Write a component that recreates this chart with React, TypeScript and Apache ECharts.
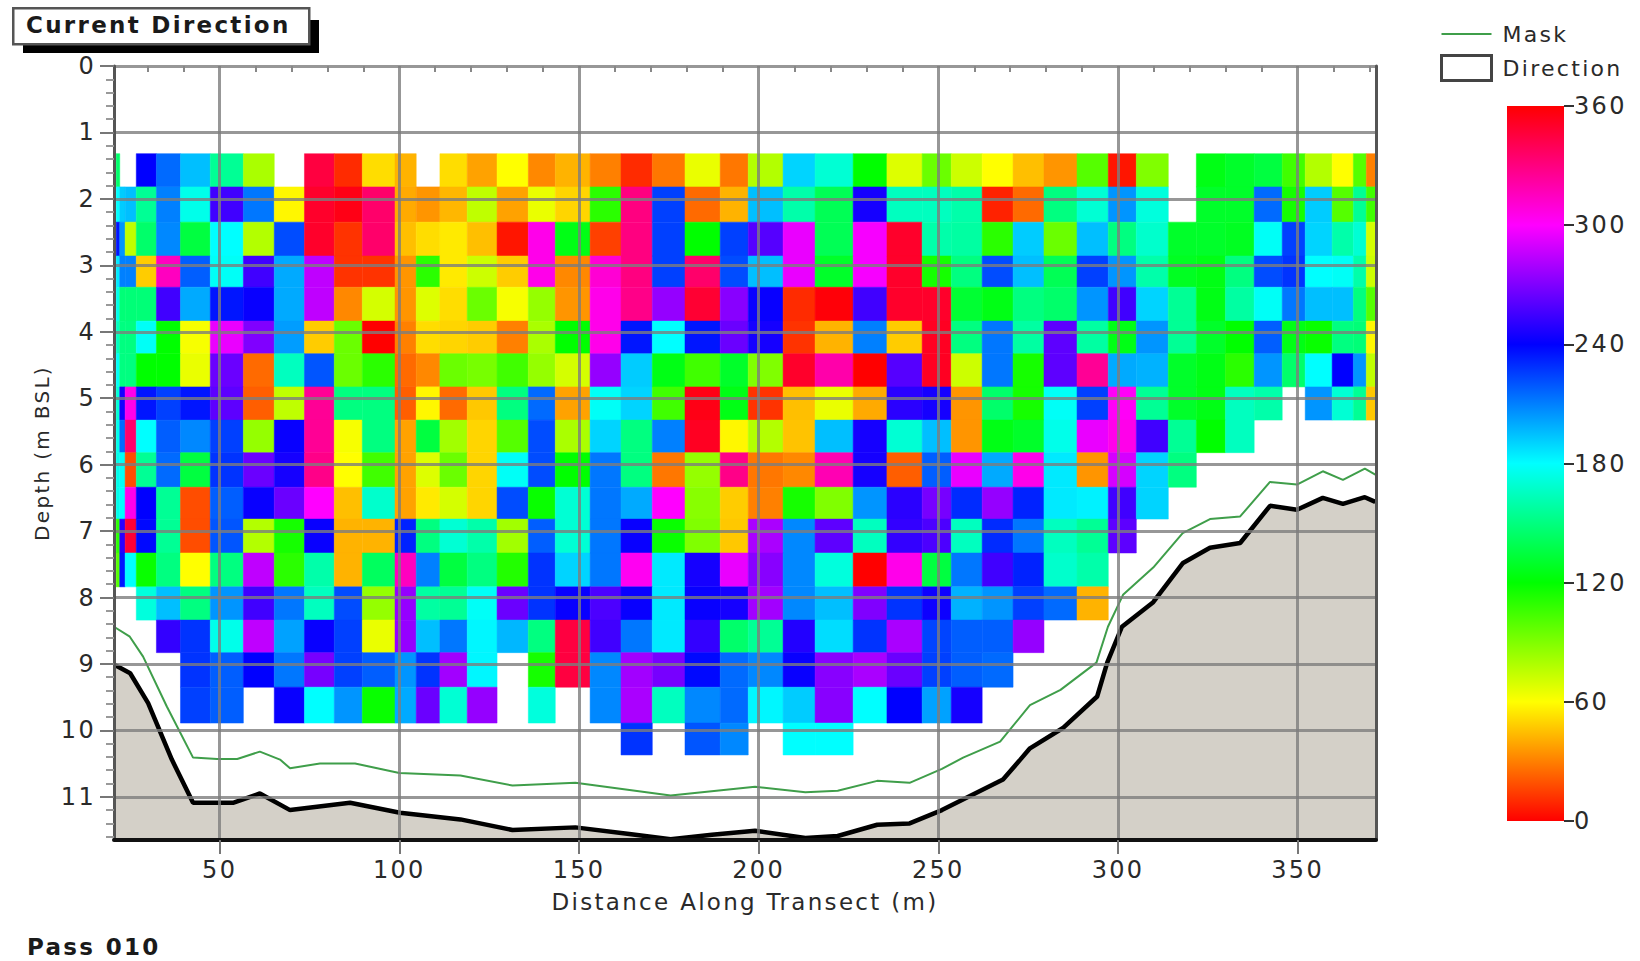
import React, { useEffect, useRef } from "react";
import * as echarts from "echarts";

const _ = null;
// column edges along the transect (m)
const distanceEdges = [21.2,22.2,23.7,26.8,32.4,39.1,47.4,56.6,65.2,73.6,81.9,89.7,98.8,104.7,111.3,118.9,127.2,135.9,143.4,153.1,161.7,170.4,179.5,189.3,197.1,206.8,215.7,226.3,235.7,245.5,253.6,262.2,270.8,279.4,288.6,297.3,305.1,314,321.8,329.9,337.9,345.7,352.1,359.6,365.5,369.1,371.6];
// row edges in depth (m)
const depthEdges = [1.32,1.82,2.35,2.86,3.33,3.84,4.33,4.83,5.33,5.82,6.34,6.82,7.33,7.84,8.34,8.83,9.35,9.89,10.37];

const row00 = [145,_,_,240,215,195,155,80,_,345,10,52,42,_,52,38,60,32,42,30,10,28,65,28,78,190,170,120,68,95,72,60,45,35,100,5,90,_,125,130,135,105,78,60,100,30];
const row01 = [180,192,195,155,210,175,255,212,58,350,355,335,40,35,43,75,38,65,50,110,330,225,25,42,195,160,140,245,165,165,160,8,25,150,170,205,172,_,130,130,215,115,192,100,155,105];
const row02 = [235,205,75,145,208,135,180,78,222,350,12,335,45,52,55,45,5,305,125,15,330,225,120,225,260,295,140,298,350,160,158,110,192,95,195,150,168,130,130,128,178,225,190,160,170,70];
const row03 = [185,210,210,48,315,218,178,255,200,285,12,12,35,110,55,72,48,305,32,310,330,225,335,222,195,295,130,298,350,115,150,222,195,140,225,205,160,128,125,150,222,228,180,178,160,72];
const row04 = [175,148,148,148,255,200,235,242,200,285,32,70,35,68,52,95,62,85,35,305,328,275,348,272,242,10,358,255,350,350,132,125,150,145,205,255,190,155,125,158,178,212,195,195,150,100];
const row05 = [165,150,150,178,120,62,295,270,203,48,95,0,30,52,50,48,30,80,120,305,235,180,235,265,245,12,42,210,48,352,150,212,158,262,158,125,205,155,130,120,218,125,118,150,148,58];
const row06 = [178,150,150,120,120,65,265,25,165,220,95,110,25,32,95,92,105,85,70,275,192,125,105,130,90,350,320,0,260,352,72,212,115,262,325,200,198,130,125,110,205,145,180,240,205,75];
const row07 = [170,245,305,235,225,235,262,22,75,325,150,150,22,58,25,47,150,215,38,178,190,105,355,125,12,45,65,40,250,245,35,145,115,178,225,302,155,130,125,165,160,_,205,170,155,47];
const row08 = [175,215,335,180,218,208,225,85,242,325,62,150,38,135,82,50,100,222,80,190,150,210,352,58,78,46,195,245,170,195,35,125,130,175,295,305,255,155,120,165,_,_,_,_,_,_];
const row09 = [175,178,18,155,215,135,228,265,245,328,60,105,38,68,95,50,178,222,120,212,150,28,85,328,28,32,318,245,22,218,295,200,305,185,35,290,190,150,_,_,_,_,_,_,_,_];
const row10 = [175,180,305,240,155,18,218,242,265,300,45,168,38,55,70,50,222,118,170,212,200,300,88,48,30,115,90,205,250,268,230,275,232,185,183,255,190,_,_,_,_,_,_,_,_,_];
const row11 = [110,250,348,238,155,18,220,78,115,242,42,42,232,150,170,160,82,218,170,212,242,118,90,47,280,208,262,165,252,258,165,230,212,165,155,262,_,_,_,_,_,_,_,_,_,_];
const row12 = [100,235,180,118,150,60,150,285,110,160,42,142,315,210,135,150,112,228,190,212,303,185,245,295,272,208,172,0,305,135,212,255,232,168,160,_,_,_,_,_,_,_,_,_,_,_];
const row13 = [_,_,_,172,195,150,205,255,212,165,222,85,275,158,155,178,265,228,242,258,242,185,242,245,278,208,195,270,228,243,198,205,225,215,42,_,_,_,_,_,_,_,_,_,_,_];
const row14 = [_,_,_,_,252,228,175,285,202,242,225,65,275,195,212,182,197,150,345,255,212,185,252,145,155,248,188,228,280,224,218,218,275,_,_,_,_,_,_,_,_,_,_,_,_,_];
const row15 = [_,_,_,_,_,228,218,240,212,268,225,218,205,228,278,182,_,115,345,208,278,268,238,215,208,242,272,280,265,225,218,215,_,_,_,_,_,_,_,_,_,_,_,_,_,_];
const row16 = [_,_,_,_,_,225,218,_,242,180,205,118,200,265,170,275,_,172,_,208,280,165,208,215,182,192,272,180,240,202,245,_,_,_,_,_,_,_,_,_,_,_,_,_,_,_];
const row17 = [_,_,_,_,_,_,_,_,_,_,_,_,_,_,_,_,_,_,_,_,228,_,220,208,_,180,180,_,_,_,_,_,_,_,_,_,_,_,_,_,_,_,_,_,_,_];
const directionRows = [row00,row01,row02,row03,row04,row05,row06,row07,row08,row09,row10,row11,row12,row13,row14,row15,row16,row17];

const bedDistance = [20.6,25.1,30.1,36.7,42.6,53.7,61.2,69.6,86.3,100.2,117,131.5,149,164,175.5,187,199,213,222,233,242,251,268,272.8,275.5,284.8,294.2,297,301.1,309.8,318.1,325.6,334,342.3,349.8,357,362.6,368.7,371.6];
const bedDepth = [9.01,9.14,9.59,10.44,11.09,11.09,10.95,11.2,11.09,11.24,11.34,11.5,11.46,11.56,11.64,11.57,11.51,11.62,11.59,11.42,11.4,11.2,10.74,10.44,10.27,9.96,9.49,8.98,8.44,8.07,7.48,7.25,7.18,6.62,6.68,6.5,6.59,6.49,6.56];
const maskDistance = [20.6,25,28.7,35.3,42.6,49.3,54.9,61.2,66.8,69.6,77.9,87.7,100,117,131.5,149,175.5,199,213,222,233,242,251,256.9,267.2,275.5,284,294,297.2,301.4,309.8,318,325.6,334,342.3,349.8,357,362.6,368.7,371.6];
const maskDepth = [8.44,8.59,8.89,9.64,10.41,10.43,10.43,10.32,10.44,10.57,10.5,10.5,10.64,10.68,10.83,10.79,10.98,10.85,10.93,10.91,10.76,10.79,10.58,10.41,10.17,9.62,9.39,8.98,8.44,7.96,7.55,7.03,6.82,6.78,6.26,6.3,6.1,6.23,6.06,6.15];

const distanceMajor = [50,100,150,200,250,300,350];
const distanceMinor = [30,40,60,70,80,90,110,120,130,140,160,170,180,190,210,220,230,240,260,270,280,290,310,320,330,340,360,370];
const depthMajor = [0,1,2,3,4,5,6,7,8,9,10,11];
const depthMinor = [0.2,0.4,0.6,0.8,1.2,1.4,1.6,1.8,2.2,2.4,2.6,2.8,3.2,3.4,3.6,3.8,4.2,4.4,4.6,4.8,5.2,5.4,5.6,5.8,6.2,6.4,6.6,6.8,7.2,7.4,7.6,7.8,8.2,8.4,8.6,8.8,9.2,9.4,9.6,9.8,10.2,10.4,10.6,10.8,11.2,11.4,11.6];
const hueStops = ["#ff0000","#ffff00","#00ff00","#00ffff","#0000ff","#ff00ff","#ff0000"];

const FONT = "DejaVu Sans";
const TEXT = "#2a2a2a";
const GRID_LINE = "rgba(125,125,125,0.8)";

const cells: any[] = [];
directionRows.forEach((row, r) => {
  row.forEach((v, c) => {
    if (v !== null) cells.push([distanceEdges[c], distanceEdges[c + 1], depthEdges[r], depthEdges[r + 1], v]);
  });
});
const zip = (a: number[], b: number[]) => a.map((x, i) => [x, b[i]]);

export default function App() {
  const ref = useRef<HTMLDivElement>(null);
  useEffect(() => {
    document.body.style.margin = "0";
    const chart = echarts.init(ref.current!, null, { renderer: "svg" });
    const xMin = 20.6, xMax = 371.8, yMax = 11.65;
    chart.setOption({
      animation: false,
      backgroundColor: "#fff",
      textStyle: { fontFamily: FONT, color: TEXT },
      grid: [
        { left: 114, top: 66, width: 1262, height: 774 },
        { left: 1507, top: 106, width: 57, height: 715 },
      ],
      legend: {
        orient: "vertical", left: 1435, top: 18, itemWidth: 50, itemHeight: 25, itemGap: 9,
        textStyle: { fontFamily: FONT, fontSize: 22, color: TEXT, padding: [0, 0, 0, 6] },
        data: [
          { name: "Mask", itemStyle: { opacity: 0 } },
          { name: "Direction", icon: "rect", itemStyle: { color: "#fff", borderColor: "#444", borderWidth: 3 } },
        ],
      },
      xAxis: [
        {
          type: "value", gridIndex: 0, min: xMin, max: xMax, position: "bottom", z: 6,
          name: "Distance Along Transect (m)", nameLocation: "middle", nameGap: 50,
          nameTextStyle: { fontFamily: FONT, fontSize: 23, color: TEXT },
          axisLine: { show: true, onZero: false, lineStyle: { color: "#111", width: 4 } },
          axisTick: { show: true, length: 14, customValues: distanceMajor, lineStyle: { color: "#777", width: 2 } },
          axisLabel: { show: true, customValues: distanceMajor, margin: 18, fontFamily: FONT, fontSize: 24, color: TEXT },
          splitLine: { show: true, lineStyle: { color: GRID_LINE, width: 3 } },
        },
        {
          type: "value", gridIndex: 0, min: xMin, max: xMax, position: "bottom", z: 6,
          axisLine: { show: false },
          axisTick: { show: true, length: 6, customValues: distanceMinor, lineStyle: { color: "#888", width: 2 } },
          axisLabel: { show: false },
          splitLine: { show: false },
        },
        { type: "category", gridIndex: 1, data: ["Direction"], show: false },
      ],
      yAxis: [
        {
          type: "value", gridIndex: 0, inverse: true, min: 0, max: yMax, position: "left", z: 6,
          name: "Depth (m BSL)", nameLocation: "middle", nameGap: 62,
          nameTextStyle: { fontFamily: FONT, fontSize: 20, color: TEXT },
          axisLine: { show: true, onZero: false, lineStyle: { color: "#555", width: 3 } },
          axisTick: { show: true, length: 14, customValues: depthMajor, lineStyle: { color: "#777", width: 2 } },
          axisLabel: { show: true, customValues: depthMajor, margin: 18, fontFamily: FONT, fontSize: 24, color: TEXT },
          splitLine: { show: true, lineStyle: { color: GRID_LINE, width: 3 } },
        },
        {
          type: "value", gridIndex: 0, inverse: true, min: 0, max: yMax, position: "left", z: 6,
          axisLine: { show: false },
          axisTick: { show: true, length: 8, customValues: depthMinor, lineStyle: { color: "#999", width: 2 } },
          axisLabel: { show: false },
          splitLine: { show: false },
        },
        {
          type: "value", gridIndex: 0, inverse: true, min: 0, max: yMax, position: "right", z: 6,
          axisLine: { show: true, onZero: false, lineStyle: { color: "#555", width: 3 } },
          axisTick: { show: false }, axisLabel: { show: false }, splitLine: { show: false },
        },
        {
          type: "value", gridIndex: 1, min: 0, max: 360, interval: 60, position: "right",
          axisLine: { show: false },
          axisTick: { show: true, length: 10, lineStyle: { color: "#333", width: 2 } },
          axisLabel: { show: true, margin: 10, fontFamily: FONT, fontSize: 24, color: TEXT },
          splitLine: { show: false },
        },
      ],
      visualMap: {
        show: false, type: "continuous", seriesIndex: 0, dimension: 4, min: 0, max: 360,
        inRange: { color: hueStops },
      },
      series: [
        {
          name: "Direction", type: "custom", xAxisIndex: 0, yAxisIndex: 0, data: cells,
          encode: { x: [0, 1], y: [2, 3] }, clip: true, z: 2,
          renderItem: (params: any, api: any) => {
            const a = api.coord([api.value(0), api.value(2)]);
            const b = api.coord([api.value(1), api.value(3)]);
            const color = api.visual("color");
            return {
              type: "rect",
              shape: { x: a[0], y: a[1], width: b[0] - a[0], height: b[1] - a[1] },
              style: { fill: color, stroke: color, lineWidth: 0.5 },
            };
          },
        },
        {
          name: "Bed", type: "line", xAxisIndex: 0, yAxisIndex: 0, data: zip(bedDistance, bedDepth),
          symbol: "none", z: 3, lineStyle: { color: "#000", width: 4.5 },
          areaStyle: { color: "#d4d0c8", opacity: 1, origin: "end" },
        },
        {
          name: "Mask", type: "line", xAxisIndex: 0, yAxisIndex: 0, data: zip(maskDistance, maskDepth),
          symbol: "none", z: 4, itemStyle: { color: "#3f9e4a" }, lineStyle: { color: "#3f9e4a", width: 2 },
        },
        {
          name: "Scale", type: "bar", xAxisIndex: 2, yAxisIndex: 3, data: [360], barWidth: "100%",
          itemStyle: {
            color: new echarts.graphic.LinearGradient(0, 0, 0, 1, [
              { offset: 0, color: "#ff0000" }, { offset: 1 / 6, color: "#ff00ff" },
              { offset: 2 / 6, color: "#0000ff" }, { offset: 3 / 6, color: "#00ffff" },
              { offset: 4 / 6, color: "#00ff00" }, { offset: 5 / 6, color: "#ffff00" },
              { offset: 1, color: "#ff0000" },
            ]),
          },
        },
      ],
      graphic: [
        { type: "rect", left: 23, top: 20, shape: { width: 296, height: 33 }, style: { fill: "#000" }, z: 10 },
        { type: "rect", left: 12, top: 7, shape: { width: 296, height: 36 }, style: { fill: "#fff", stroke: "#555", lineWidth: 2.5 }, z: 11 },
        { type: "text", left: 26, top: 13, style: { text: "Current Direction", fontFamily: FONT, fontWeight: "bold", fontSize: 23, fill: "#1a1a1a" }, z: 12 },
        { type: "text", left: 27, top: 935, style: { text: "Pass 010", fontFamily: FONT, fontWeight: "bold", fontSize: 23, fill: "#1a1a1a" }, z: 12 },
      ],
    });
    return () => chart.dispose();
  }, []);
  return (
    <>
      <style>{"#root svg text { letter-spacing: 2.3px; }"}</style>
      <div ref={ref} style={{ position: "fixed", left: 0, top: 0, width: 1640, height: 961 }} />
    </>
  );
}
